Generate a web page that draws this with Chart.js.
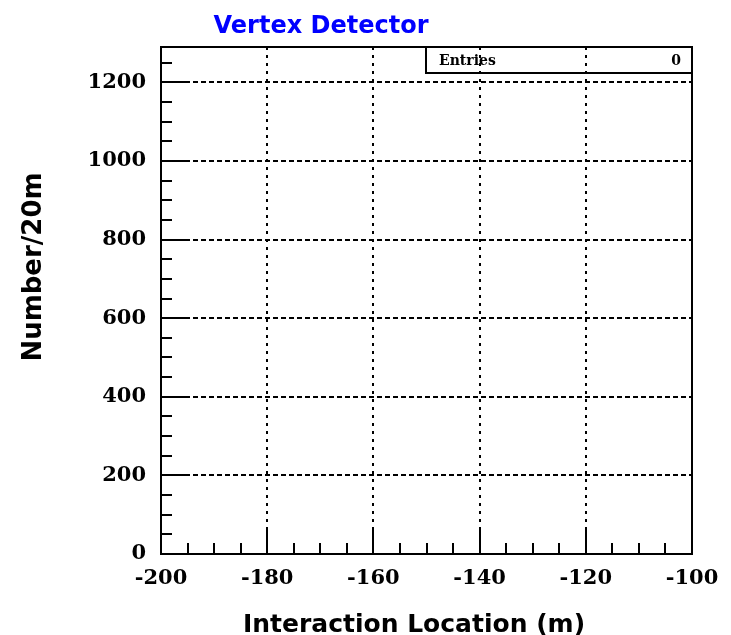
<!DOCTYPE html>
<html>
<head>
<meta charset="utf-8">
<script src="https://cdn.jsdelivr.net/npm/chart.js@4.4.1/dist/chart.umd.min.js"></script>
<style>
  html, body { margin: 0; padding: 0; background: #fff; }
</style>
</head>
<body>
<canvas id="myChart" width="731" height="635"></canvas>
<script>
// histogram, 20 m bins, no entries
const binCenters = [-190, -170, -150, -130, -110];
const counts = [0, 0, 0, 0, 0];
const xRange = [-200, -100];
const yRange = [0, 1290];
const xMajor = 20, xMinor = 5;
const yMajor = 200, yMinor = 50;
const entries = 0;

const frame = {
  id: 'frame',
  afterDraw(chart) {
    const ctx = chart.ctx;
    const a = chart.chartArea;
    const x = chart.scales.x, y = chart.scales.y;
    ctx.save();
    ctx.strokeStyle = '#000';
    ctx.lineWidth = 2;
    ctx.setLineDash([]);
    ctx.strokeRect(a.left, a.top, a.right - a.left, a.bottom - a.top);

    // tick marks, pointing in
    ctx.beginPath();
    for (let v = xRange[0] + xMinor; v < xRange[1]; v += xMinor) {
      const px = Math.round(x.getPixelForValue(v));
      const len = (v % xMajor === 0) ? 27 : 11;
      ctx.moveTo(px, a.bottom);
      ctx.lineTo(px, a.bottom - len);
    }
    for (let v = yRange[0] + yMinor; v < yRange[1]; v += yMinor) {
      const py = Math.round(y.getPixelForValue(v));
      const len = (v % yMajor === 0) ? 27 : 11;
      ctx.moveTo(a.left, py);
      ctx.lineTo(a.left + len, py);
    }
    ctx.stroke();

    // stats box
    ctx.strokeRect(426, a.top, a.right - 426, 26);
    ctx.fillStyle = '#000';
    ctx.font = 'bold 14px "DejaVu Serif"';
    ctx.textBaseline = 'alphabetic';
    ctx.textAlign = 'left';
    ctx.fillText('Entries', 439, 65);
    ctx.textAlign = 'right';
    ctx.fillText(String(entries), 681, 65);

    // titles
    ctx.textAlign = 'center';
    ctx.fillStyle = '#0000ff';
    ctx.font = 'bold 24px "DejaVu Sans"';
    ctx.fillText('Vertex Detector', 321, 33);

    ctx.fillStyle = '#000';
    ctx.font = 'bold 25px "DejaVu Sans"';
    ctx.fillText('Interaction Location (m)', 414, 632);

    ctx.font = 'bold 26px "DejaVu Sans"';
    ctx.translate(41, 267);
    ctx.rotate(-Math.PI / 2);
    ctx.fillText('Number/20m', 0, 0);
    ctx.restore();
  }
};

const ctx = document.getElementById('myChart').getContext('2d');
const myChart = new Chart(ctx, {
  type: 'line',
  data: {
    datasets: [{
      data: binCenters.map((c, i) => ({ x: c, y: counts[i] })),
      borderColor: '#000',
      borderWidth: 2,
      pointRadius: 0,
      stepped: 'middle'
    }]
  },
  options: {
    responsive: false,
    animation: false,
    layout: { padding: { left: 0, top: 47, right: 39, bottom: 0 } },
    plugins: { legend: { display: false }, tooltip: { enabled: false } },
    scales: {
      x: {
        type: 'linear',
        min: xRange[0],
        max: xRange[1],
        afterFit(s) { s.height = 81; },
        border: { display: false, dash: [3, 5] },
        grid: {
          drawTicks: false,
          lineWidth: 2,
          color: c => (c.tick && (c.tick.value === xRange[0] || c.tick.value === xRange[1])) ? 'rgba(0,0,0,0)' : '#000'
        },
        ticks: {
          stepSize: xMajor,
          autoSkip: false,
          maxRotation: 0,
          padding: 12,
          color: '#000',
          font: { family: 'DejaVu Serif', size: 21, weight: 'bold' },
          callback: v => String(v)
        }
      },
      y: {
        min: yRange[0],
        max: yRange[1],
        afterFit(s) { s.width = 161; },
        border: { display: false, dash: [5, 3] },
        grid: {
          drawTicks: false,
          lineWidth: 2,
          color: c => (c.tick && c.tick.value === 0) ? 'rgba(0,0,0,0)' : '#000'
        },
        ticks: {
          stepSize: yMajor,
          includeBounds: false,
          padding: 15,
          color: '#000',
          font: { family: 'DejaVu Serif', size: 21, weight: 'bold' },
          callback: v => String(v)
        }
      }
    }
  },
  plugins: [frame]
});
</script>
</body>
</html>
